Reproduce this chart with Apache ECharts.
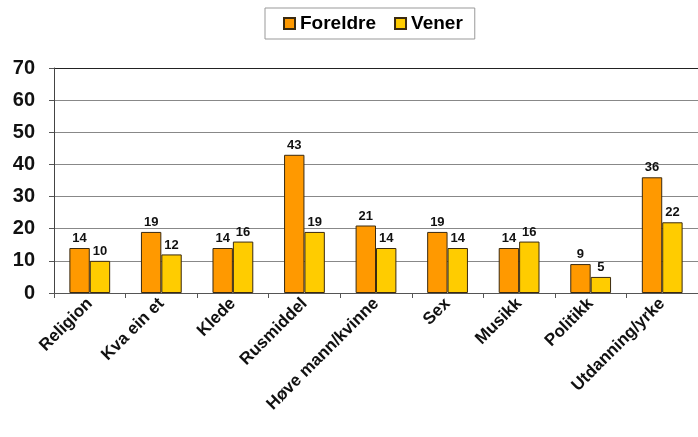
<!DOCTYPE html>
<html><head><meta charset="utf-8">
<script src="https://cdn.jsdelivr.net/npm/echarts@6/dist/echarts.min.js"></script>
<style>html,body{margin:0;padding:0;background:#fff}#c{width:698px;height:437px}</style>
</head><body><div id="c"></div>
<script>
const categories = ["Religion","Kva ein et","Klede","Rusmiddel","Høve mann/kvinne","Sex","Musikk","Politikk","Utdanning/yrke"];
const foreldre = [14,19,14,43,21,19,14,9,36];
const vener = [10,12,16,19,14,14,16,5,22];
const yTicks = [0,10,20,30,40,50,60,70];

const chart = echarts.init(document.getElementById('c'), null, {renderer:'canvas'});
const font = '"Liberation Sans", Arial, sans-serif';
const lbl = {show:true, position:'top', distance:3, color:'#111', fontWeight:'bold', fontSize:13, fontFamily:font};
const gridColors = yTicks.map((v, i) => i === yTicks.length - 1 ? '#222' : '#888');
chart.setOption({
  animation:false,
  legend:{
    top:8, left:265, itemWidth:11, itemHeight:11, itemGap:18, icon:'rect',
    padding:[6,12,6,18], borderColor:'#999', borderWidth:1,
    textStyle:{fontSize:19, fontWeight:'bold', color:'#000', fontFamily:font},
    data:['Foreldre','Vener']
  },
  grid:{left:54, top:68, width:652, height:225, containLabel:false},
  xAxis:{
    type:'category', data:categories,
    axisLine:{lineStyle:{color:'#555', width:1}},
    axisTick:{show:true, length:5, lineStyle:{color:'#555'}},
    axisLabel:{rotate:45, interval:0, margin:8, fontSize:17, fontWeight:'bold', color:'#111', fontFamily:font}
  },
  yAxis:{
    type:'value', min:yTicks[0], max:yTicks[yTicks.length-1], interval:10,
    axisLine:{show:true, lineStyle:{color:'#444'}},
    axisTick:{show:true, length:5, lineStyle:{color:'#555'}},
    axisLabel:{fontSize:20, fontWeight:'bold', color:'#111', margin:19, fontFamily:font},
    splitLine:{lineStyle:{color:gridColors, width:1}}
  },
  series:[
    {name:'Foreldre', type:'bar', data:foreldre, barGap:'0%', barCategoryGap:'43%',
     itemStyle:{color:'#FF9900', borderColor:'#3a2a10', borderWidth:1}, label:lbl},
    {name:'Vener', type:'bar', data:vener,
     itemStyle:{color:'#FFCC00', borderColor:'#3a2a10', borderWidth:1}, label:lbl}
  ]
});
</script></body></html>
